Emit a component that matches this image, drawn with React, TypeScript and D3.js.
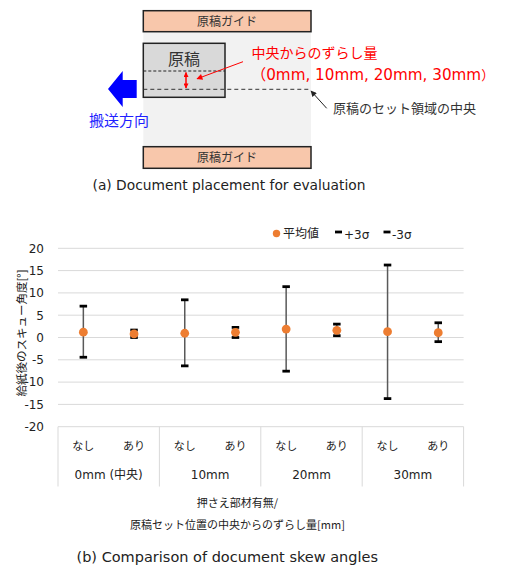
import React from "react";
import * as d3 from "d3";

const categories = ["なし", "あり", "なし", "あり", "なし", "あり", "なし", "あり"];
const groups = ["0mm (中央)", "10mm", "20mm", "30mm"];
const means = [1.2, 0.8, 0.95, 1.15, 1.9, 1.6, 1.3, 1.07];
const plus3 = [7.03, 1.67, 8.45, 2.27, 11.4, 3.0, 16.25, 3.3];
const minus3 = [-4.43, 0.0, -6.36, 0.0, -7.55, 0.4, -13.7, -0.93];
const yTicks = [20, 15, 10, 5, 0, -5, -10, -15, -20];

const FONT = "'DejaVu Sans', 'Noto Sans CJK JP', sans-serif";
const JFONT = "'Noto Sans CJK JP', 'DejaVu Sans', sans-serif";

export default function App() {
  const left = 58, right = 463.6, top = 248.3, bottom = 426.7;
  const x = d3.scaleBand<number>().domain(d3.range(categories.length)).range([left, right]);
  const y = d3.scaleLinear().domain([-20, 20]).range([bottom, top]);
  const groupX = d3.scaleBand<number>().domain(d3.range(groups.length)).range([left, right]);
  const cx = (i: number) => (x(i) as number) + x.bandwidth() / 2;
  const capW = 7.5;

  return (
    <svg width={506} height={565} style={{ position: "absolute", left: 0, top: 0, background: "#fff" }}>
      <defs>
        <marker id="redHead" viewBox="0 0 10 10" refX="9" refY="5" markerUnits="userSpaceOnUse" markerWidth="6" markerHeight="5" orient="auto-start-reverse">
          <path d="M0,0 L10,5 L0,10 z" fill="#ff0000" />
        </marker>
        <marker id="redHead2" viewBox="0 0 10 10" refX="9" refY="5" markerUnits="userSpaceOnUse" markerWidth="7" markerHeight="6" orient="auto">
          <path d="M0,0 L10,5 L0,10 z" fill="#ff0000" />
        </marker>
        <marker id="blackHead" viewBox="0 0 10 10" refX="9" refY="5" markerUnits="userSpaceOnUse" markerWidth="7" markerHeight="6" orient="auto">
          <path d="M0,0 L10,5 L0,10 z" fill="#222" />
        </marker>
      </defs>

      {/* ---------- (a) diagram ---------- */}
      <rect x={143.3} y={31.7} width={167.7} height={115} fill="#f2f2f2" />
      <rect x={143.3} y={10.7} width={167.7} height={21} fill="#f8c7ab" stroke="#222" strokeWidth={1.5} />
      <text x={227} y={25.5} fontSize={12} fontFamily={JFONT} textAnchor="middle" fill="#333">原稿ガイド</text>
      <rect x={143.3} y={146.7} width={167.7} height={21.6} fill="#f8c7ab" stroke="#222" strokeWidth={1.5} />
      <text x={227} y={162} fontSize={12} fontFamily={JFONT} textAnchor="middle" fill="#333">原稿ガイド</text>

      <rect x={143.3} y={43.3} width={81.7} height={54} fill="#d9d9d9" stroke="#222" strokeWidth={1.5} />
      <text x={184} y={65} fontSize={16} fontFamily={JFONT} textAnchor="middle" fill="#333">原稿</text>
      <line x1={143.3} x2={225} y1={71} y2={71} stroke="#222" strokeWidth={1} strokeDasharray="3,2" />
      <line x1={143.3} x2={310} y1={89.3} y2={89.3} stroke="#333" strokeWidth={1} strokeDasharray="4,3" />
      <line x1={186} x2={186} y1={72.5} y2={88} stroke="#ff0000" strokeWidth={1.5} markerStart="url(#redHead)" markerEnd="url(#redHead)" />
      <line x1={243} y1={61.7} x2={197} y2={78.8} stroke="#ff0000" strokeWidth={1} markerEnd="url(#redHead2)" />

      <path d="M108,89 L122.7,71 L122.7,80 L136.7,80 L136.7,98 L122.7,98 L122.7,107 Z" fill="#0000ff" />
      <text x={89} y={126} fontSize={15} fontFamily={JFONT} fill="#1f1fff">搬送方向</text>

      <text x={251.5} y={58} fontSize={14} fontFamily={JFONT} fill="#ff0000">中央からのずらし量</text>
      <text x={251} y={80} fontSize={15.2} fontFamily={FONT} fill="#ff0000">
        <tspan fontFamily={JFONT}>（</tspan>0mm, 10mm, 20mm, 30mm<tspan fontFamily={JFONT} fontSize={13}>）</tspan>
      </text>

      <line x1={326.7} y1={108.3} x2={311} y2={91} stroke="#222" strokeWidth={1} markerEnd="url(#blackHead)" />
      <text x={333} y={113} fontSize={13} fontFamily={JFONT} fill="#333">原稿のセット領域の中央</text>

      <text x={92.5} y={190} fontSize={13.8} fontFamily={FONT} fill="#222">(a) Document placement for evaluation</text>

      {/* ---------- (b) chart ---------- */}
      {yTicks.map((t) => (
        <g key={t}>
          <line x1={left} x2={right} y1={y(t)} y2={y(t)} stroke="#d9d9d9" strokeWidth={1} />
          <text x={44} y={y(t)} dy="0.36em" fontSize={12} fontFamily={FONT} textAnchor="end" fill="#222">{t}</text>
        </g>
      ))}
      {d3.range(groups.length + 1).map((g) => {
        const gx = g < groups.length ? (groupX(g) as number) : right;
        return <line key={g} x1={gx} x2={gx} y1={bottom} y2={486.5} stroke="#d9d9d9" strokeWidth={1} />;
      })}
      {categories.map((c, i) => (
        <text key={i} x={cx(i)} y={446} dy="0.35em" fontSize={11} fontFamily={JFONT} textAnchor="middle" fill="#222">{c}</text>
      ))}
      {groups.map((g, i) => (
        <text key={g} x={(groupX(i) as number) + groupX.bandwidth() / 2} y={474.5} dy="0.35em" fontSize={12} fontFamily={FONT} textAnchor="middle" fill="#222">{g}</text>
      ))}

      {categories.map((c, i) => (
        <g key={"e" + i}>
          <line x1={cx(i)} x2={cx(i)} y1={y(plus3[i])} y2={y(minus3[i])} stroke="#595959" strokeWidth={1.5} />
          <line x1={cx(i) - capW / 2} x2={cx(i) + capW / 2} y1={y(plus3[i])} y2={y(plus3[i])} stroke="#000" strokeWidth={2.8} />
          <line x1={cx(i) - capW / 2} x2={cx(i) + capW / 2} y1={y(minus3[i])} y2={y(minus3[i])} stroke="#000" strokeWidth={2.8} />
          <circle cx={cx(i)} cy={y(means[i])} r={4.4} fill="#ed7d31" />
        </g>
      ))}

      {/* legend */}
      <circle cx={276.5} cy={233.5} r={3.7} fill="#ed7d31" />
      <text x={283} y={233.5} dy="0.35em" fontSize={12} fontFamily={JFONT} fill="#222">平均値</text>
      <line x1={335} x2={342} y1={232} y2={232} stroke="#000" strokeWidth={2.8} />
      <text x={344} y={235} dy="0.35em" fontSize={12} fontFamily={FONT} fill="#222">+3σ</text>
      <line x1={383.5} x2={390.5} y1={232} y2={232} stroke="#000" strokeWidth={2.8} />
      <text x={392} y={235} dy="0.35em" fontSize={12} fontFamily={FONT} fill="#222">-3σ</text>

      <text transform={`translate(22,333) rotate(-90)`} fontSize={11.5} fontFamily={JFONT} textAnchor="middle" dy="0.35em" fill="#222">給紙後のスキュー角度[°]</text>

      <text x={237.5} y={502.7} dy="0.35em" fontSize={11} fontFamily={JFONT} textAnchor="middle" fill="#222">押さえ部材有無/</text>
      <text x={237.5} y={525} dy="0.35em" fontSize={11} fontFamily={JFONT} textAnchor="middle" fill="#222">原稿セット位置の中央からのずらし量[mm]</text>

      <text x={76.5} y={556.7} dy="0.35em" fontSize={14.5} fontFamily={FONT} fill="#222">(b) Comparison of document skew angles</text>
    </svg>
  );
}
